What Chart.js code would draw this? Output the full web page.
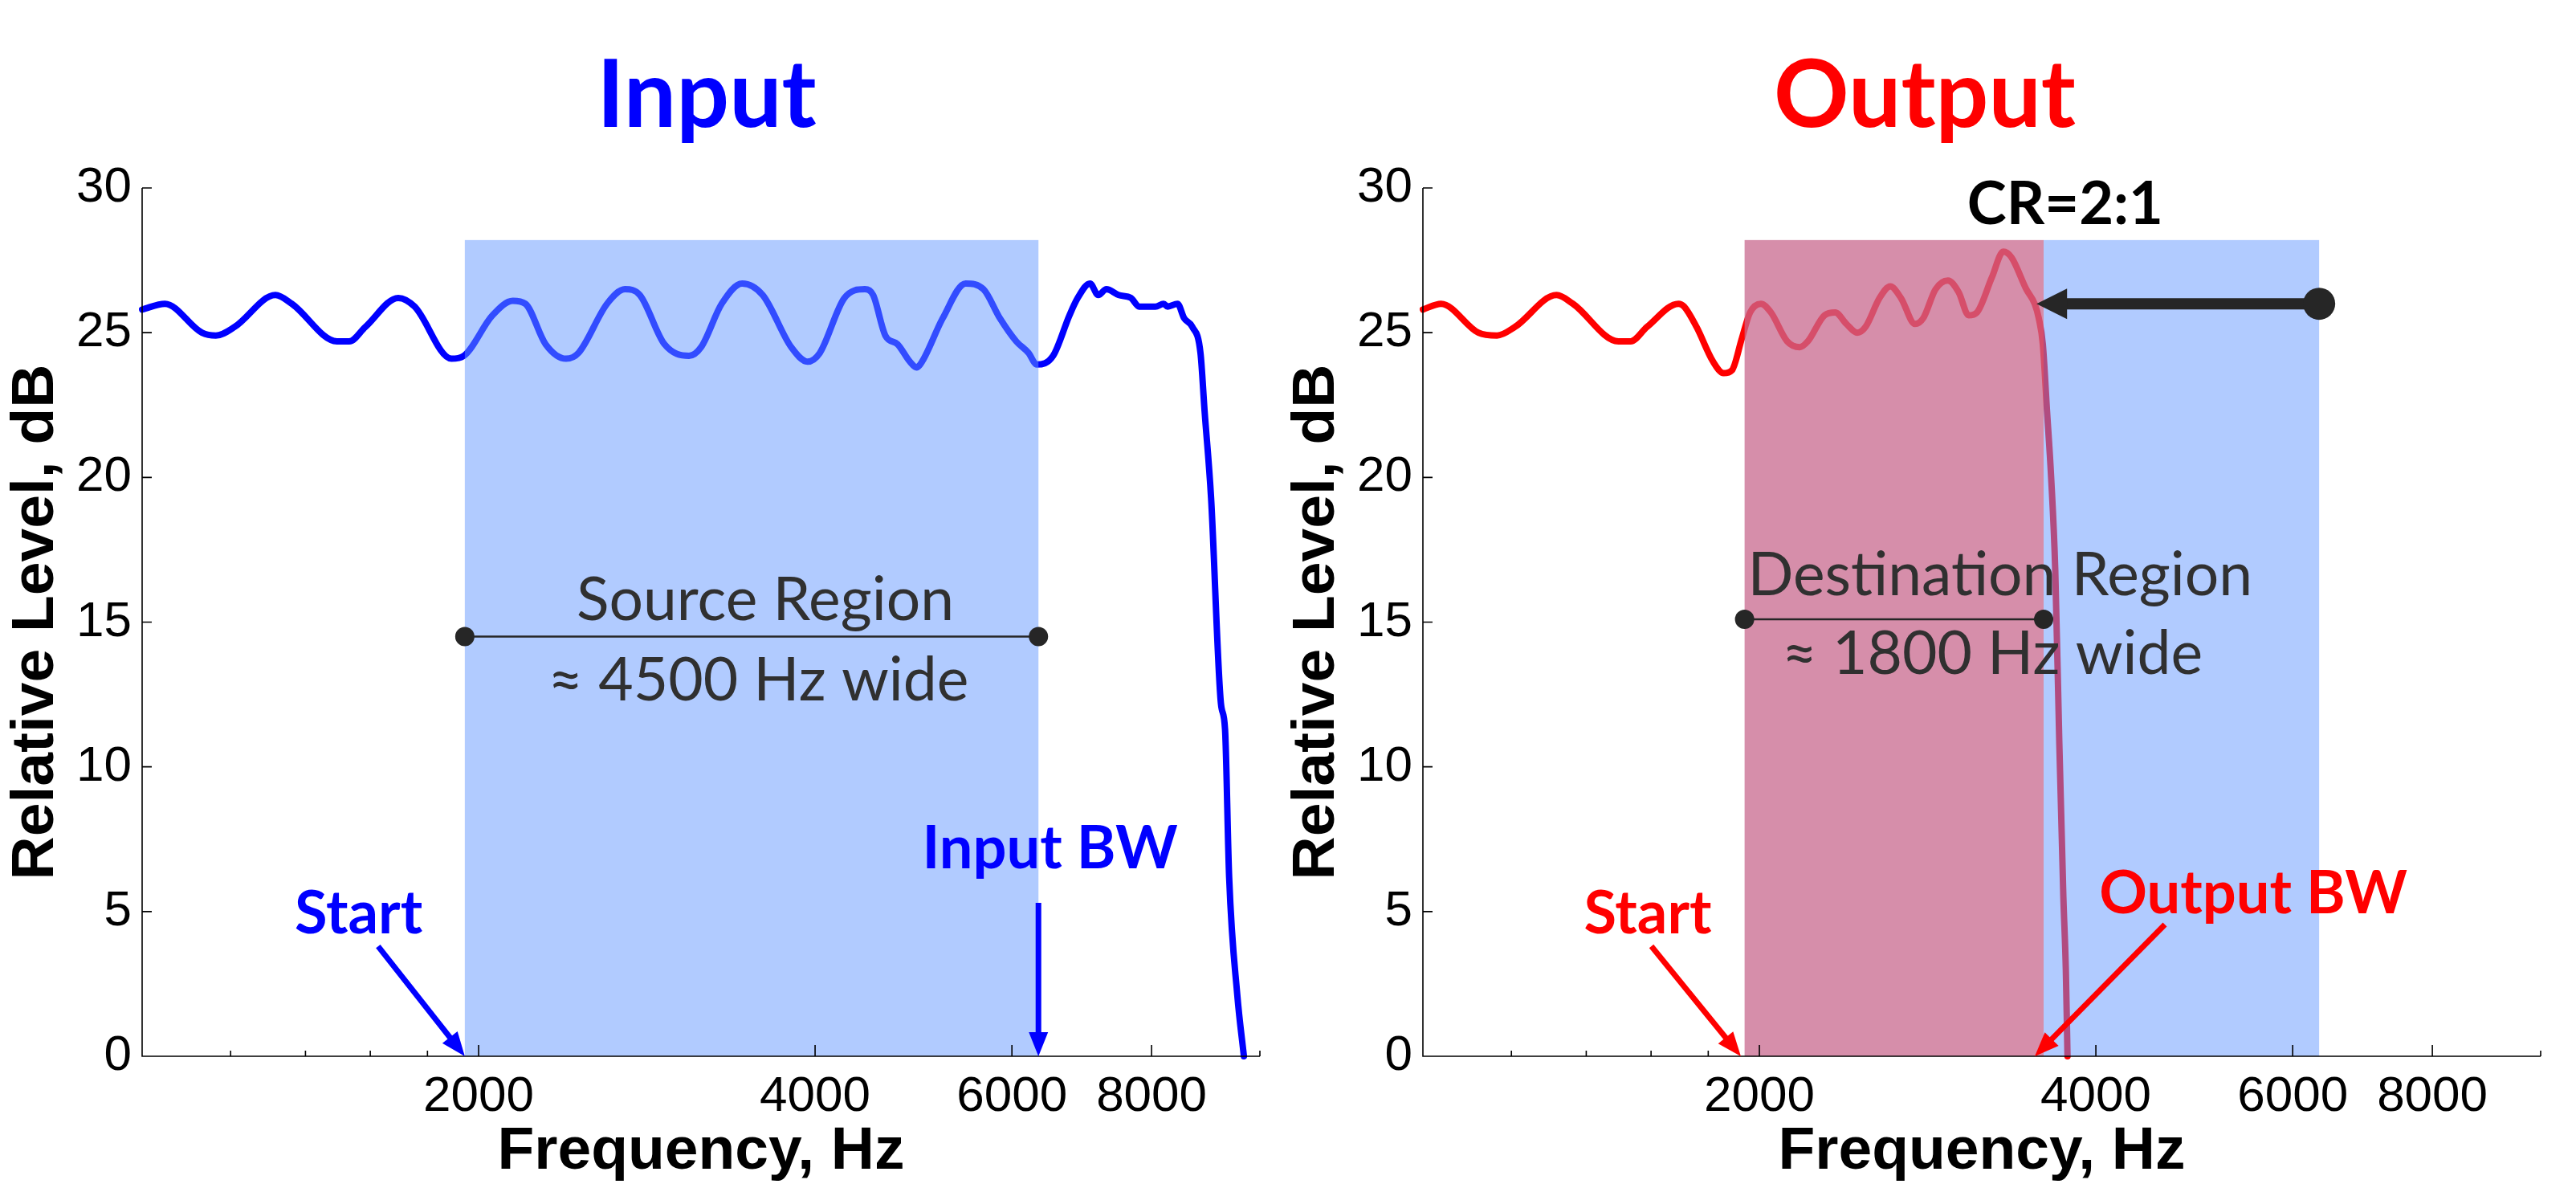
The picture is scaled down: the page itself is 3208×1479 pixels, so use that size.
<!DOCTYPE html>
<html><head><meta charset="utf-8">
<script src="https://cdn.jsdelivr.net/npm/chart.js@4.4.1/dist/chart.umd.min.js"></script>
<style>
html,body{margin:0;padding:0;background:#fff;}
#wrap{position:relative;width:3208px;height:1479px;overflow:hidden;background:#fff;}
canvas{position:absolute;top:0;}
#c1{left:0;}
#c2{left:1595px;}
</style></head><body>
<div id="wrap">
<canvas id="c1" width="1595" height="1479"></canvas>
<canvas id="c2" width="1613" height="1479"></canvas>
</div>
<script>
// ---------- data ----------
const xTickValues = [1000, 1200, 1400, 1600, 1800, 2000, 4000, 6000, 8000, 10000];
const xTickLabels = ['', '', '', '', '', '2000', '4000', '6000', '8000', ''];
const yTickValues = [0, 5, 10, 15, 20, 25, 30];

const inputFreq = [1000,1048,1131,1164,1210,1316,1361,1494,1532,1584,1695,1753,1891,1940,2058,2146,2202,2296,2395,2457,2606,2704,2788,2933,3085,3163,3300,3442,3591,3808,3938,4039,4249,4432,4508,4623,4741,4862,4930,4986,5203,5454,5659,5853,6054,6209,6315,6531,6755,6871,7047,7167,7289,7475,7667,7797,8064,8201,8270,8439,8555,8701,8848,8923,9043,9228,9307,9386,9546,9676];
const inputLevel = [25.8,26.0,25.0,24.9,25.2,26.3,26.0,24.7,24.7,25.2,26.2,25.9,24.1,24.2,25.6,26.1,26.0,24.6,24.1,24.3,26.0,26.5,26.3,24.6,24.2,24.5,26.0,26.7,26.3,24.5,24.0,24.3,26.2,26.5,26.3,24.9,24.6,24.0,23.8,24.0,25.5,26.7,26.5,25.5,24.7,24.3,23.9,24.2,25.6,26.2,26.7,26.3,26.5,26.3,26.2,25.9,25.9,26.0,25.9,26.0,25.5,25.2,24.3,22.3,19.3,12.2,11.3,6.2,2.1,0];

const outputFreq = [1000,1038,1121,1165,1209,1317,1362,1496,1534,1587,1693,1713,1757,1818,1858,1890,1929,1962,2006,2048,2118,2173,2210,2287,2338,2393,2447,2489,2562,2619,2677,2756,2803,2875,2949,3015,3078,3131,3228,3306,3362,3466,3526,3556,3586,3617,3648,3679,3710,3741,3760,3773];
const outputLevel = [25.8,26.0,25.0,24.9,25.2,26.3,26.0,24.7,24.7,25.2,26.0,25.9,25.2,24.0,23.6,23.7,24.8,25.7,26.0,25.7,24.7,24.5,24.7,25.6,25.7,25.3,25.0,25.2,26.2,26.6,26.2,25.3,25.5,26.5,26.8,26.4,25.6,25.7,26.9,27.8,27.6,26.5,26.0,25.5,24.6,22.3,20.0,16.8,10.8,5.5,3.0,0];

// region bounds (Hz) and levels (dB)
const sourceRegion = [1944, 6337];
const destRegion = [1940, 3592];
const shiftedRegion = [3592, 6336];
const regionTop = 28.2;
const sourceSpanLevel = 14.5;
const destSpanLevel = 15.1;
const crArrow = [6336, 3540, 26.0];

// ---------- drawing helpers ----------
const AX_FONT = '"Liberation Sans", Arial, sans-serif';
const TXT_FONT = 'Lato, "Open Sans", sans-serif';

function arrow(ctx, x1, y1, x2, y2, color, w, hl, hw) {
  const a = Math.atan2(y2 - y1, x2 - x1);
  const bx = x2 - hl * Math.cos(a), by = y2 - hl * Math.sin(a);
  ctx.strokeStyle = color; ctx.fillStyle = color; ctx.lineWidth = w; ctx.lineCap = 'butt';
  ctx.beginPath(); ctx.moveTo(x1, y1); ctx.lineTo(bx + Math.cos(a), by + Math.sin(a)); ctx.stroke();
  ctx.beginPath();
  ctx.moveTo(x2, y2);
  ctx.lineTo(bx + hw / 2 * Math.sin(a), by - hw / 2 * Math.cos(a));
  ctx.lineTo(bx - hw / 2 * Math.sin(a), by + hw / 2 * Math.cos(a));
  ctx.closePath(); ctx.fill();
}

const decor = {
  id: 'decor',
  afterDatasetsDraw(chart, args, o) {
    const ctx = chart.ctx, ca = chart.chartArea, xs = chart.scales.x, ys = chart.scales.y;
    const X = v => xs.getPixelForValue(v), Y = v => ys.getPixelForValue(v);
    ctx.save();
    // shaded regions
    for (const r of o.regions) {
      ctx.fillStyle = r.color;
      ctx.fillRect(X(r.from), Y(r.top), X(r.to) - X(r.from), Y(0) - Y(r.top));
    }
    // axes lines and inward ticks
    ctx.strokeStyle = '#000'; ctx.lineWidth = 1.6;
    ctx.beginPath();
    ctx.moveTo(ca.left, ca.top); ctx.lineTo(ca.left, ca.bottom); ctx.lineTo(ca.right, ca.bottom);
    xTickValues.forEach((v, i) => {
      if (i === 0) return;
      const len = xTickLabels[i] ? 14 : 7;
      ctx.moveTo(X(v), ca.bottom); ctx.lineTo(X(v), ca.bottom - len);
    });
    yTickValues.forEach(v => { ctx.moveTo(ca.left, Y(v)); ctx.lineTo(ca.left + 12, Y(v)); });
    ctx.stroke();
    // span marker (dumbbell)
    const d = o.span;
    ctx.strokeStyle = '#262626'; ctx.fillStyle = '#262626'; ctx.lineWidth = 2.5;
    ctx.beginPath(); ctx.moveTo(X(d.from), Y(d.level)); ctx.lineTo(X(d.to), Y(d.level)); ctx.stroke();
    [d.from, d.to].forEach(f => { ctx.beginPath(); ctx.arc(X(f), Y(d.level), 12, 0, Math.PI * 2); ctx.fill(); });
    // arrows
    for (const a of o.arrows) {
      arrow(ctx, X(a.from[0]), Y(a.from[1]), X(a.to[0]), Y(a.to[1]), a.color, a.width, a.head[0], a.head[1]);
      if (a.dot) { ctx.beginPath(); ctx.arc(X(a.from[0]), Y(a.from[1]), a.dot, 0, Math.PI * 2); ctx.fill(); }
    }
    // texts
    ctx.textAlign = 'center'; ctx.textBaseline = 'alphabetic';
    for (const t of o.texts) {
      ctx.font = `${t.bold ? 'bold ' : ''}${t.size}px ${TXT_FONT}`;
      ctx.fillStyle = t.color;
      ctx.fillText(t.text, X(t.at[0]), Y(t.at[1]));
    }
    // panel title
    ctx.font = `bold 116px ${TXT_FONT}`;
    ctx.fillStyle = o.title.color;
    ctx.fillText(o.title.text, o.title.x, 158);
    ctx.restore();
  }
};

function makeChart(id, freq, level, lineColor, rightPad, deco) {
  return new Chart(document.getElementById(id), {
    type: 'line',
    data: { datasets: [{
      data: freq.map((f, i) => ({ x: f, y: level[i] })),
      borderColor: lineColor, borderWidth: 8, pointRadius: 0,
      cubicInterpolationMode: 'monotone', fill: false, clip: 8,
      borderJoinStyle: 'round', borderCapStyle: 'round'
    }] },
    options: {
      responsive: false, animation: false, events: [],
      layout: { padding: { left: 0, right: rightPad, top: 234, bottom: 0 } },
      plugins: { legend: { display: false }, tooltip: { enabled: false }, title: { display: false }, decor: deco },
      scales: {
        x: {
          type: 'logarithmic', min: 1000, max: 10000,
          afterBuildTicks: s => { s.ticks = xTickValues.map(v => ({ value: v })); },
          afterFit: s => { s.height = 164; },
          ticks: { autoSkip: false, maxRotation: 0, minRotation: 0, padding: 14, color: '#000',
            font: { family: AX_FONT, size: 62 }, callback: (v, i) => xTickLabels[i] },
          grid: { display: false, drawTicks: false }, border: { display: false },
          title: { display: true, text: 'Frequency, Hz', color: '#000', padding: 0,
            font: { family: AX_FONT, size: 75, weight: 'bold' } }
        },
        y: {
          min: 0, max: 30,
          afterBuildTicks: s => { s.ticks = yTickValues.map(v => ({ value: v })); },
          afterFit: s => { s.width = 177; },
          ticks: { padding: 13, color: '#000', font: { family: AX_FONT, size: 62 } },
          grid: { display: false, drawTicks: false }, border: { display: false },
          title: { display: true, text: 'Relative Level, dB', color: '#000', padding: 0,
            font: { family: AX_FONT, size: 75, weight: 'bold' } }
        }
      }
    },
    plugins: [decor]
  });
}

const BLUE_REGION = 'rgba(100,152,255,0.5)';
const PINK_REGION = 'rgba(200,104,141,0.75)';

makeChart('c1', inputFreq, inputLevel, '#0000ff', 26, {
  title: { text: 'Input', color: '#0000ff', x: 880 },
  regions: [{ from: sourceRegion[0], to: sourceRegion[1], top: regionTop, color: BLUE_REGION }],
  span: { from: sourceRegion[0], to: sourceRegion[1], level: sourceSpanLevel },
  arrows: [
    { from: [1626, 3.8], to: [sourceRegion[0], 0], color: '#0000ff', width: 7, head: [30, 24] },
    { from: [sourceRegion[1], 5.3], to: [sourceRegion[1], 0], color: '#0000ff', width: 7, head: [30, 24] }
  ],
  texts: [
    { text: 'Start', at: [1562, 4.25], color: '#0000ff', size: 74, bold: true },
    { text: 'Input BW', at: [6489, 6.49], color: '#0000ff', size: 74, bold: true },
    { text: 'Source Region', at: [3610, 15.07], color: '#303030', size: 75 },
    { text: '\u2248 4500 Hz wide', at: [3559, 12.3], color: '#303030', size: 75 }
  ]
});

makeChart('c2', outputFreq, outputLevel, '#ff0000', 44, {
  title: { text: 'Output', color: '#ff0000', x: 802 },
  regions: [
    { from: destRegion[0], to: destRegion[1], top: regionTop, color: PINK_REGION },
    { from: shiftedRegion[0], to: shiftedRegion[1], top: regionTop, color: BLUE_REGION }
  ],
  span: { from: destRegion[0], to: destRegion[1], level: destSpanLevel },
  arrows: [
    { from: [crArrow[0], crArrow[2]], to: [crArrow[1], crArrow[2]], color: '#262626', width: 14, head: [38, 38], dot: 20 },
    { from: [1601, 3.8], to: [1925, 0], color: '#ff0000', width: 7, head: [30, 24] },
    { from: [4611, 4.55], to: [3527, 0], color: '#ff0000', width: 7, head: [30, 24] }
  ],
  texts: [
    { text: 'CR=2:1', at: [3755, 28.75], color: '#000', size: 74, bold: true },
    { text: 'Start', at: [1589, 4.25], color: '#ff0000', size: 74, bold: true },
    { text: 'Output BW', at: [5532, 4.94], color: '#ff0000', size: 74, bold: true },
    { text: 'Destination Region', at: [3284, 15.93], color: '#303030', size: 75 },
    { text: '\u2248 1800 Hz wide', at: [3232, 13.21], color: '#303030', size: 75 }
  ]
});
</script>
</body></html>
